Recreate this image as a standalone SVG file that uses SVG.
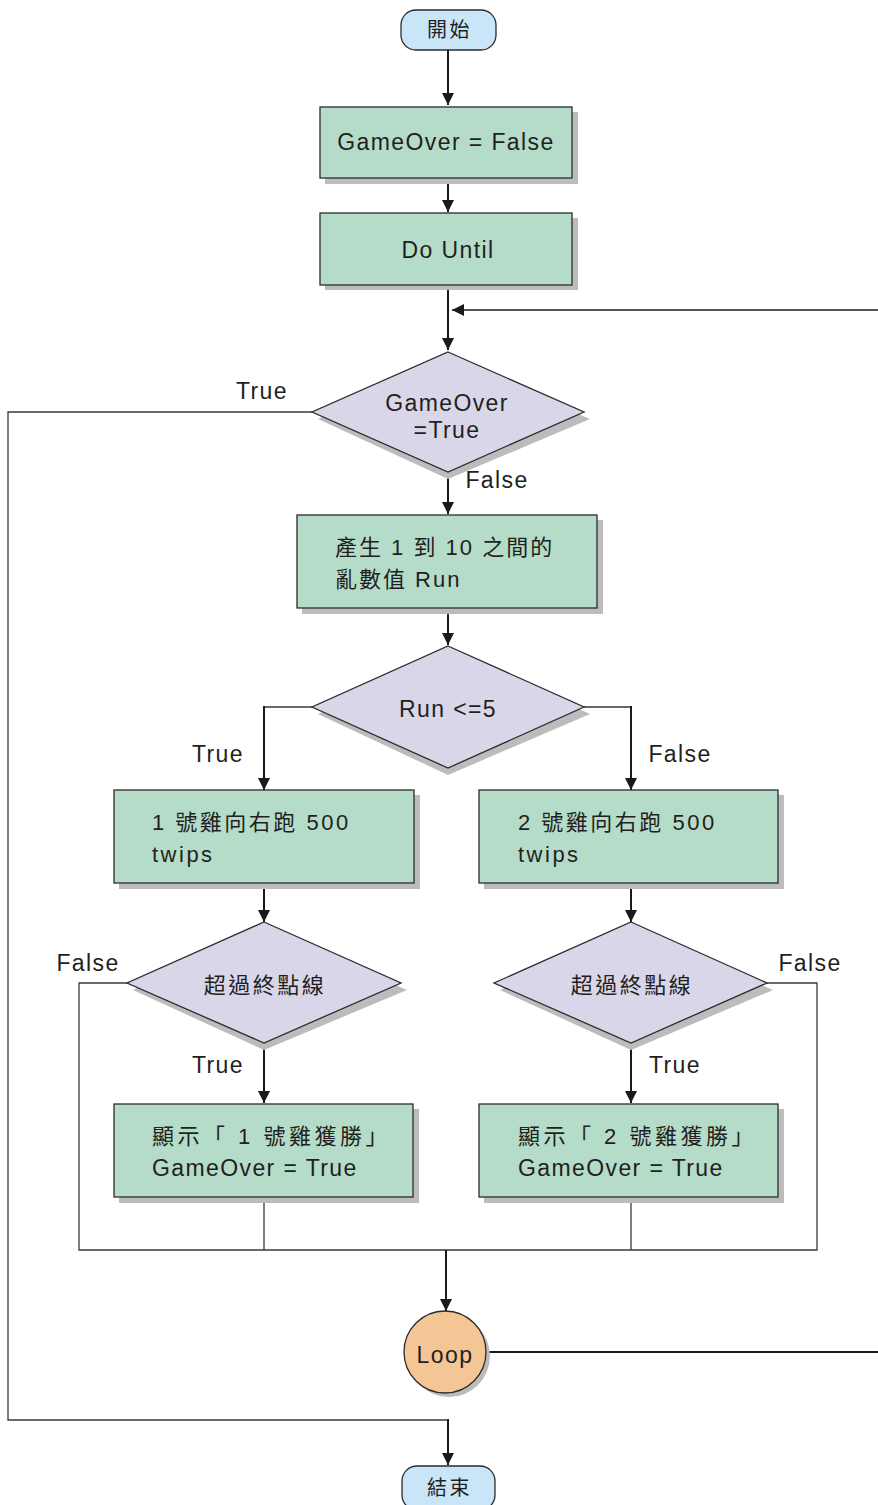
<svg xmlns="http://www.w3.org/2000/svg" width="878" height="1505" viewBox="0 0 878 1505">
<defs>
<style>
text{font-family:"Liberation Sans","Noto Sans CJK TC",sans-serif;font-size:23px;letter-spacing:1.4px;fill:#231f20}
.c{text-anchor:middle}
.box{fill:#b5dcc9;stroke:#2b2b2b;stroke-width:1.3}
.dia{fill:#d9d6ea;stroke:#2b2b2b;stroke-width:1.3}
.term{fill:#c8e6f8;stroke:#2b2b2b;stroke-width:1.3}
.loop{fill:#f5c695;stroke:#2b2b2b;stroke-width:1.3}
.sh{fill:#bcbcbc}
.ln{fill:none;stroke:#1a1a1a;stroke-width:2}
.tn{fill:none;stroke:#3a3a3a;stroke-width:1.3}
.cjk{font-size:22px;letter-spacing:2.5px}
</style>
<marker id="ah" markerWidth="12" markerHeight="12" viewBox="0 0 12 12" refX="12" refY="6" orient="auto" markerUnits="userSpaceOnUse">
<path d="M0,0 L12,6 L0,12 Z" fill="#1a1a1a"/>
</marker>
</defs>

<g id="connectors">
<line class="ln" x1="448" y1="50" x2="448" y2="105" marker-end="url(#ah)"/>
<line class="ln" x1="448" y1="178" x2="448" y2="212" marker-end="url(#ah)"/>
<line class="ln" x1="448" y1="285" x2="448" y2="350" marker-end="url(#ah)"/>
<line class="ln" x1="878" y1="310" x2="452" y2="310" marker-end="url(#ah)" style="stroke-width:1.6"/>
<polyline class="tn" points="312,412 8,412 8,1420 448,1420"/>
<line class="ln" x1="448" y1="1419" x2="448" y2="1465" marker-end="url(#ah)"/>
<line class="ln" x1="448" y1="472" x2="448" y2="514" marker-end="url(#ah)"/>
<line class="ln" x1="448" y1="608" x2="448" y2="645" marker-end="url(#ah)"/>
<polyline class="tn" points="312,707 264,707 264,740"/>
<line class="ln" x1="264" y1="706" x2="264" y2="790" marker-end="url(#ah)"/>
<polyline class="tn" points="584,707 631,707 631,740"/>
<line class="ln" x1="631" y1="706" x2="631" y2="790" marker-end="url(#ah)"/>
<line class="ln" x1="264" y1="883" x2="264" y2="922" marker-end="url(#ah)"/>
<line class="ln" x1="631" y1="883" x2="631" y2="922" marker-end="url(#ah)"/>
<line class="ln" x1="264" y1="1043" x2="264" y2="1103" marker-end="url(#ah)"/>
<line class="ln" x1="631" y1="1043" x2="631" y2="1103" marker-end="url(#ah)"/>
<polyline class="tn" points="127,983 79,983 79,1250 817,1250 817,983 767,983"/>
<line class="tn" x1="264" y1="1197" x2="264" y2="1250"/>
<line class="tn" x1="631" y1="1197" x2="631" y2="1250"/>
<line class="ln" x1="446" y1="1250" x2="446" y2="1311" marker-end="url(#ah)"/>
<line class="ln" x1="486" y1="1352" x2="878" y2="1352"/>
</g>

<g id="start">
<rect x="401" y="10" width="95" height="40" rx="15" class="term"/>
<text x="449.5" y="37" class="c cjk" style="font-size:20px">開始</text>
</g>

<g id="init">
<rect x="325" y="112" width="253" height="72" class="sh"/>
<rect x="320" y="107" width="252" height="71" class="box"/>
<text x="446" y="150" class="c">GameOver = False</text>
</g>

<g id="dountil">
<rect x="325" y="218" width="253" height="72" class="sh"/>
<rect x="320" y="213" width="252" height="72" class="box"/>
<text x="448" y="258" class="c">Do Until</text>
</g>

<g id="cond1">
<polygon points="448,358 590,419 448,479 318,419" class="sh"/>
<polygon points="448,352 584,412 448,472 312,412" class="dia"/>
<text x="447" y="411" class="c">GameOver</text>
<text x="447" y="438" class="c">=True</text>
<text x="262" y="399" class="c">True</text>
<text x="497" y="488" class="c">False</text>
</g>

<g id="rand">
<rect x="302" y="520" width="301" height="94" class="sh"/>
<rect x="297" y="515" width="300" height="93" class="box"/>
<text x="335" y="555" class="cjk" style="letter-spacing:2px">產生 1 到 10 之間的</text>
<text x="335" y="587" class="cjk" style="letter-spacing:2px">亂數值 Run</text>
</g>

<g id="cond2">
<polygon points="448,652 590,714 448,775 318,714" class="sh"/>
<polygon points="448,646 584,707 448,768 312,707" class="dia"/>
<text x="448" y="717" class="c">Run &lt;=5</text>
<text x="218" y="762" class="c">True</text>
<text x="680" y="762" class="c">False</text>
</g>

<g id="run1">
<rect x="119" y="795" width="301" height="94" class="sh"/>
<rect x="114" y="790" width="300" height="93" class="box"/>
<text x="152" y="830" class="cjk">1 號雞向右跑 500</text>
<text x="152" y="862" class="cjk">twips</text>
</g>

<g id="run2">
<rect x="484" y="795" width="300" height="94" class="sh"/>
<rect x="479" y="790" width="299" height="93" class="box"/>
<text x="518" y="830" class="cjk">2 號雞向右跑 500</text>
<text x="518" y="862" class="cjk">twips</text>
</g>

<g id="finish1">
<polygon points="264,928 407,990 264,1050 133,990" class="sh"/>
<polygon points="264,922 401,983 264,1043 127,983" class="dia"/>
<text x="265" y="993" class="c cjk">超過終點線</text>
<text x="88" y="971" class="c">False</text>
<text x="218" y="1073" class="c">True</text>
</g>

<g id="finish2">
<polygon points="631,928 773,990 631,1050 500,990" class="sh"/>
<polygon points="631,922 767,983 631,1043 494,983" class="dia"/>
<text x="632" y="993" class="c cjk">超過終點線</text>
<text x="810" y="971" class="c">False</text>
<text x="675" y="1073" class="c">True</text>
</g>

<g id="win1">
<rect x="119" y="1109" width="300" height="94" class="sh"/>
<rect x="114" y="1104" width="299" height="93" class="box"/>
<text x="152" y="1144" class="cjk" style="letter-spacing:3.5px">顯示「 1 號雞獲勝」</text>
<text x="152" y="1176">GameOver = True</text>
</g>

<g id="win2">
<rect x="484" y="1109" width="300" height="94" class="sh"/>
<rect x="479" y="1104" width="299" height="93" class="box"/>
<text x="518" y="1144" class="cjk" style="letter-spacing:3.5px">顯示「 2 號雞獲勝」</text>
<text x="518" y="1176">GameOver = True</text>
</g>

<g id="loop">
<circle cx="449" cy="1356" r="41" class="sh"/>
<circle cx="445" cy="1352" r="41" class="loop"/>
<text x="445" y="1363" class="c">Loop</text>
</g>

<g id="end">
<rect x="402" y="1466" width="93" height="44" rx="15" class="term"/>
<text x="449.5" y="1495" class="c cjk" style="font-size:20px">結束</text>
</g>
</svg>
